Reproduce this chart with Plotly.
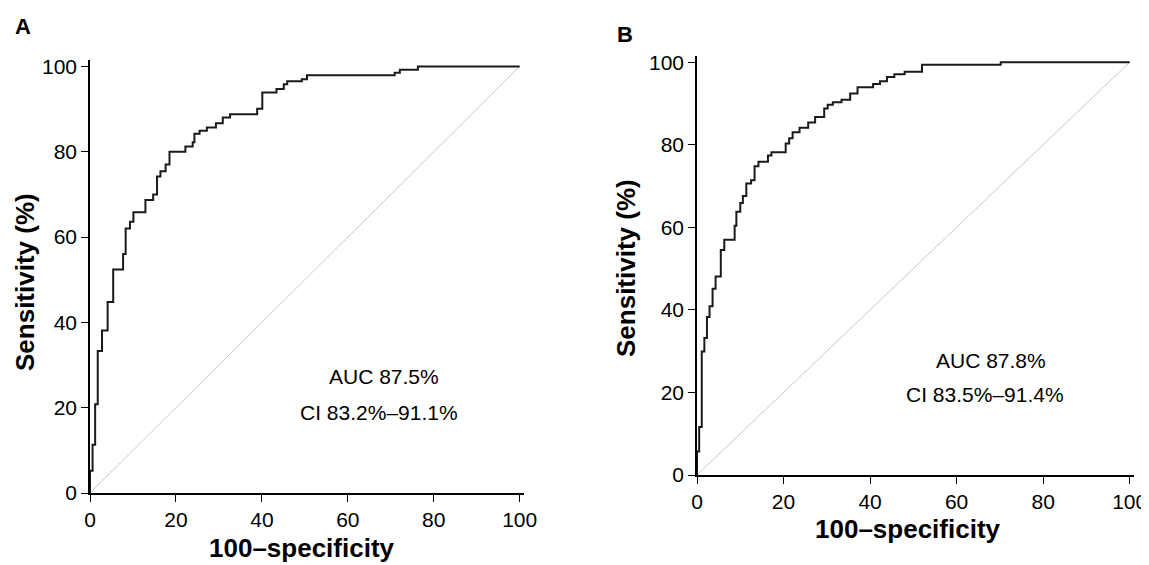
import plotly.graph_objects as go

# panel A ROC steps (100-specificity, sensitivity)
fpr_a = [0, 0, 0.6, 1.2, 1.8, 2.8, 4.1, 5.4, 7.7, 8.3, 9.3, 10.1, 12.9, 14.7, 15.6, 16.4, 17.6, 18.5,
         22.2, 23.9, 24.3, 25.5, 27.2, 29.3, 30.9, 32.6, 38.9, 40.1, 43.4, 45.1, 45.9, 49.3, 50.5,
         70.9, 72.1, 76.3, 100]
sens_a = [0, 5.2, 11.3, 20.8, 33.3, 38.1, 44.8, 52.4, 56, 62, 63.6, 65.8, 68.7, 70, 74.2, 75.4, 77,
          80, 81.2, 82.2, 84.2, 84.9, 85.7, 86.7, 88, 88.8, 90.1, 93.9, 94.7, 95.8, 96.5, 97, 97.9,
          98.5, 99.2, 100, 100]

# panel B ROC steps
fpr_b = [0, 0, 0.5, 1.1, 1.7, 2.3, 2.9, 3.6, 4.3, 5.5, 6.3, 8.7, 9.1, 10.0, 10.6, 11.4, 12.5, 13.3,
         14.2, 16.4, 17.2, 20.5, 21.3, 22.1, 23.7, 25.7, 27.3, 29.4, 30.2, 31.4, 33.4, 35.4, 37.1,
         40.7, 42.3, 43.9, 45.6, 48.0, 52.0, 70.2, 79.9, 100]
sens_b = [0, 5.7, 11.6, 29.9, 33.2, 38.3, 40.9, 45.1, 48.1, 54.5, 57, 60.4, 63.8, 65.9, 67.6, 70.6,
          71.4, 74.8, 75.9, 77.4, 78.2, 80.3, 81.6, 83, 84.1, 85.4, 86.7, 88.8, 89.7, 90.3, 90.9,
          92.4, 93.9, 94.7, 95.4, 96.4, 97.1, 97.7, 99.4, 100, 100, 100]

diag = [0, 100]
ticks = [0, 20, 40, 60, 80, 100]

W, H, OFF = 1149, 565, 8  # page body margin shifts the plot by OFF px


def px(p):
    return (p - OFF) / W


def py(p):
    return 1 - (p - OFF) / H


panels = [
    ("x", "y", fpr_a, sens_a),
    ("x2", "y2", fpr_b, sens_b),
]

fig = go.Figure()
for xa, ya, fx, sy in panels:
    fig.add_trace(go.Scatter(x=diag, y=diag, xaxis=xa, yaxis=ya, mode="lines",
                             line=dict(color="#c8c8c8", width=1), showlegend=False))
    fig.add_trace(go.Scatter(x=fx, y=sy, xaxis=xa, yaxis=ya, mode="lines", line_shape="hv",
                             line=dict(color="#1a1a1a", width=2), showlegend=False))

ax = dict(showgrid=False, zeroline=False, showline=True, linecolor="black", linewidth=1.5,
          ticks="outside", ticklen=7, tickcolor="black", tickvals=ticks,
          tickfont=dict(family="Arial, Liberation Sans", size=21, color="black"))

fig.update_layout(
    width=W, height=H, plot_bgcolor="white", paper_bgcolor="white",
    margin=dict(l=0, r=0, t=0, b=0, autoexpand=False),
    xaxis=dict(ax, domain=[px(90), px(524)], range=[0, 101], anchor="y"),
    yaxis=dict(ax, domain=[py(493), py(60)], range=[0, 101.5], anchor="x"),
    xaxis2=dict(ax, domain=[px(697), px(1134)], range=[0, 101], anchor="y2"),
    yaxis2=dict(ax, domain=[py(475), py(56)], range=[0, 101.5], anchor="x2"),
)

f = dict(family="Arial, Liberation Sans", color="black")
ann = [
    (23, 27, "<b>A</b>", 22, 0),
    (625, 35, "<b>B</b>", 22, 0),
    (302, 548, "<b>100–specificity</b>", 26, 0),
    (908, 529, "<b>100–specificity</b>", 26, 0),
    (25, 282, "<b>Sensitivity (%)</b>", 26, -90),
    (626, 268, "<b>Sensitivity (%)</b>", 26, -90),
    (384, 377, "AUC 87.5%", 21, 0),
    (379, 412, "CI 83.2%–91.1%", 21, 0),
    (991, 360, "AUC 87.8%", 21, 0),
    (985, 394, "CI 83.5%–91.4%", 21, 0),
]
for x, y, t, s, ang in ann:
    fig.add_annotation(xref="paper", yref="paper", x=px(x), y=py(y), text=t, textangle=ang,
                       xanchor="center", yanchor="middle", showarrow=False, font=dict(f, size=s))

fig.write_html("out.html")
